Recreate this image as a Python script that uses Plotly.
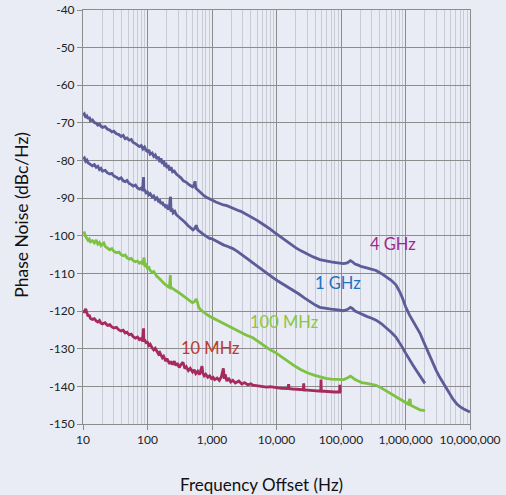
import math
import plotly.graph_objects as go

# ---------------- data ----------------
freq_4ghz = [10, 10.5, 11, 11.5, 12, 12.5, 13, 14, 15, 16, 17, 18, 19, 20, 22, 24, 26, 28, 30, 33,
             36, 39, 42, 45, 48, 52, 56, 60, 65, 70, 75, 80, 85, 90, 95, 100, 105, 110, 118, 125,
             132, 140, 148, 155, 162, 170, 178, 185, 192, 200, 210, 220, 232, 245, 260, 280, 300,
             330, 360, 400, 450, 500, 530, 545, 560, 600, 650, 700, 760, 830, 900, 1000, 1150,
             1300, 1500, 1700, 1900, 2200, 2500, 2800, 3200, 3700, 4300, 5000, 6000, 7000, 8000,
             9500, 11000, 13000, 15000, 17500, 20000, 24000, 30000, 37000, 47000, 58000, 70000,
             83000, 96000, 110000, 125000, 140000, 150000, 165000, 185000, 210000, 250000,
             300000, 350000, 420000, 500000, 600000, 710000, 800000, 900000, 1000000, 1150000,
             1300000, 1500000, 1680000, 1850000, 2000000, 2200000, 2400000, 2700000, 3000000,
             3400000, 3800000, 4200000, 4700000, 5400000, 6200000, 7000000, 8000000, 9000000,
             10000000]
pn_4ghz = [-68.0, -67.6, -68.6, -68.2, -68.9, -68.4, -69.4, -69.2, -69.9, -70.1, -70.6, -70.3,
           -70.9, -71.2, -71.0, -71.7, -71.9, -72.4, -72.2, -72.9, -73.1, -73.6, -73.3, -74.2,
           -74.0, -74.6, -74.4, -75.2, -75.5, -75.8, -76.3, -76.0, -76.9, -76.4, -77.3, -77.6,
           -77.2, -78.3, -78.0, -78.9, -78.5, -79.6, -79.0, -80.4, -79.4, -80.9, -80.0, -81.6,
           -80.6, -82.0, -81.2, -82.6, -81.8, -83.0, -82.8, -83.6, -84.0, -84.6, -85.4, -85.8,
           -86.5, -87.0, -86.4, -85.5, -87.3, -87.8, -88.4, -88.8, -89.4, -89.8, -90.2, -90.5,
           -91.0, -91.4, -91.8, -92.0, -92.4, -92.8, -93.2, -93.5, -94.0, -94.6, -95.2, -95.9,
           -96.8, -97.5, -98.2, -99.2, -100.0, -100.9, -101.7, -102.5, -103.2, -104.0, -104.9,
           -105.6, -106.3, -106.7, -106.9, -107.1, -107.3, -107.4, -107.2, -106.6, -106.9,
           -107.5, -107.8, -108.2, -108.5, -108.8, -109.2, -110.0, -110.8, -111.8, -113.0,
           -114.6, -116.6, -118.8, -121.0, -122.6, -124.4, -125.9, -127.6, -129.0, -130.6,
           -132.0, -134.0, -135.8, -137.6, -139.0, -140.4, -141.8, -143.3, -144.6, -145.4,
           -146.0, -146.5, -146.8]

freq_1ghz = [10, 10.5, 11, 11.5, 12, 13, 14, 15, 16, 17, 18, 19, 20, 22, 24, 26, 28, 30, 33, 36,
             39, 42, 45, 48, 52, 56, 60, 65, 70, 75, 80, 84, 86, 87, 88, 90, 95, 100, 105, 110,
             118, 125, 132, 140, 148, 155, 162, 170, 178, 185, 192, 200, 210, 218, 224, 228, 232,
             240, 250, 265, 280, 300, 320, 350, 380, 420, 460, 507, 540, 570, 600, 650, 700, 760,
             830, 900, 1000, 1150, 1300, 1500, 1800, 2100, 2500, 3000, 3600, 4300, 5200, 6300,
             7500, 8800, 10500, 12500, 15000, 18000, 22000, 27000, 33000, 40000, 47000, 58000,
             70000, 83000, 96000, 110000, 125000, 140000, 150000, 165000, 185000, 210000,
             250000, 300000, 350000, 420000, 500000, 600000, 710000, 800000, 900000, 1000000,
             1100000, 1200000, 1320000, 1450000, 1600000, 1800000, 2000000]
pn_1ghz = [-79.6, -79.3, -80.2, -79.9, -80.6, -80.9, -81.4, -81.1, -81.8, -81.5, -82.4, -82.1,
           -82.8, -82.6, -83.3, -83.6, -83.4, -84.1, -84.4, -84.9, -84.6, -85.4, -85.6, -85.3,
           -86.1, -86.4, -86.8, -86.5, -87.3, -87.6, -87.3, -88.0, -85.0, -84.4, -88.2, -87.7,
           -88.6, -88.4, -89.1, -88.8, -89.7, -89.4, -90.3, -89.9, -90.8, -90.6, -91.5, -91.0,
           -92.0, -91.6, -92.6, -92.2, -93.0, -92.6, -90.2, -89.6, -93.6, -92.8, -93.9, -93.5,
           -94.4, -94.8, -95.2, -95.8, -96.4, -97.2, -97.8, -98.4, -98.0, -97.2, -98.4, -98.9,
           -99.4, -99.8, -100.2, -100.6, -100.8, -101.4, -101.9, -102.4, -102.9, -103.4,
           -104.2, -105.1, -106.2, -107.2, -108.3, -109.4, -110.4, -111.1, -112.0, -112.8,
           -113.6, -114.4, -115.4, -116.5, -117.5, -118.4, -119.0, -119.3, -119.5, -119.6,
           -119.8, -119.9, -119.6, -119.0, -119.3, -120.0, -120.4, -120.9, -121.4, -121.9,
           -122.4, -123.3, -124.4, -125.6, -126.9, -128.2, -129.7, -131.1, -132.4, -133.4,
           -134.5, -135.6, -136.8, -138.0, -139.2]

freq_100mhz = [10, 10.5, 11, 11.5, 12, 12.5, 13, 14, 15, 16, 17, 18, 19, 20, 21, 22, 24, 26, 28,
               30, 33, 36, 39, 42, 45, 48, 52, 56, 60, 65, 70, 75, 80, 85, 88, 89, 91, 95, 100,
               105, 110, 118, 125, 132, 140, 150, 160, 170, 180, 190, 200, 212, 220, 223, 226,
               229, 240, 260, 280, 300, 330, 360, 400, 450, 500, 540, 570, 590, 620, 660, 700,
               760, 830, 900, 1000, 1150, 1330, 1550, 1800, 2100, 2700, 3300, 4300, 5300, 6500,
               8000, 9800, 12000, 14500, 17000, 20000, 24000, 30000, 38000, 47000, 58000, 70000,
               83000, 96000, 110000, 125000, 140000, 150000, 165000, 185000, 210000, 250000,
               300000, 350000, 420000, 500000, 600000, 710000, 800000, 900000, 1000000, 1100000,
               1150000, 1180000, 1200000, 1350000, 1500000, 1700000, 1850000, 2000000]
pn_100mhz = [-99.4, -99.2, -100.2, -100.8, -101.2, -100.9, -101.6, -101.3, -101.9, -101.1,
             -102.2, -101.8, -102.6, -102.2, -101.9, -102.8, -103.3, -103.7, -103.4, -104.1,
             -104.5, -104.3, -105.0, -105.3, -105.1, -105.8, -106.2, -106.0, -106.6, -106.9,
             -106.7, -107.3, -107.0, -107.6, -105.8, -106.2, -108.2, -107.8, -108.6, -108.4,
             -109.2, -109.7, -109.5, -110.3, -110.8, -111.2, -111.8, -112.3, -112.6, -113.0,
             -113.3, -113.6, -113.4, -110.6, -110.4, -113.9, -113.9, -114.3, -114.6, -115.0,
             -115.5, -116.0, -116.5, -117.2, -117.8, -117.4, -116.8, -117.5, -118.9, -119.6,
             -120.0, -120.5, -120.9, -121.3, -121.7, -122.3, -122.9, -123.5, -124.1, -124.7,
             -125.6, -126.3, -127.1, -128.2, -129.3, -130.3, -131.1, -132.2, -133.2, -134.1,
             -134.8, -135.6, -136.4, -137.0, -137.5, -137.9, -138.1, -138.2, -138.3, -138.2,
             -137.8, -137.3, -137.6, -138.2, -138.6, -139.0, -139.2, -139.5, -139.7, -140.4,
             -141.2, -142.0, -142.8, -143.4, -144.0, -144.4, -144.7, -143.6, -143.4, -145.0,
             -145.5, -145.9, -146.3, -146.3, -146.5]

freq_10mhz = [10, 10.5, 11, 11.5, 12, 12.5, 13, 14, 15, 16, 17, 18, 19, 20, 22, 24, 26, 28, 30,
              33, 36, 39, 42, 45, 48, 52, 56, 60, 65, 70, 75, 80, 84, 86, 87, 88, 90, 95, 100,
              105, 110, 118, 125, 132, 140, 148, 155, 162, 170, 178, 185, 192, 200, 210, 220,
              230, 245, 260, 275, 290, 310, 330, 355, 380, 400, 430, 460, 500, 530, 560, 600,
              640, 680, 700, 720, 760, 800, 860, 920, 980, 1040, 1100, 1200, 1300, 1400, 1450,
              1500, 1550, 1600, 1700, 1800, 1950, 2100, 2300, 2600, 2900, 3200, 3600, 4000,
              4300, 5000, 6000, 7000, 8000, 9000, 10500, 12000, 13500, 15000, 15400, 15800,
              18000, 21000, 24000, 26000, 26400, 26800, 30000, 35000, 40000, 45000, 48500,
              49000, 49600, 55000, 62000, 70000, 80000, 90000, 95000, 96000, 97000, 100000]
pn_10mhz = [-119.8, -120.4, -119.4, -120.8, -121.4, -121.0, -121.9, -122.2, -122.0, -122.6,
            -122.9, -122.5, -123.2, -123.4, -123.1, -123.8, -123.6, -124.2, -124.5, -124.3,
            -125.0, -125.3, -125.1, -125.8, -125.6, -126.3, -126.1, -126.8, -127.2, -126.9,
            -127.6, -127.3, -128.0, -125.2, -124.6, -128.2, -127.6, -128.4, -128.3, -129.1,
            -128.8, -129.8, -130.3, -129.9, -130.8, -131.4, -131.0, -131.9, -132.4, -132.0,
            -132.8, -133.3, -132.6, -133.5, -134.0, -133.4, -134.2, -133.3, -134.5, -133.8,
            -135.0, -134.2, -133.6, -135.3, -134.8, -135.8, -135.2, -136.2, -135.6, -136.6,
            -136.0, -136.9, -135.2, -134.6, -136.4, -137.2, -136.8, -137.6, -137.2, -137.9,
            -137.6, -138.2, -137.8, -138.4, -137.4, -135.6, -135.2, -138.0, -136.8, -138.6,
            -137.8, -138.8, -138.4, -139.1, -138.6, -139.4, -139.0, -139.6, -139.3, -139.7,
            -139.9, -140.0, -140.2, -140.1, -140.3, -140.4, -140.5, -140.5, -140.6, -139.4,
            -140.6, -140.7, -140.8, -140.9, -140.9, -139.2, -141.0, -141.0, -141.1, -141.2,
            -141.2, -141.3, -138.2, -141.3, -141.3, -141.4, -141.4, -141.5, -141.5, -141.5,
            -139.6, -141.5, -141.5]

series_names = ["4 GHz", "1 GHz", "100 MHz", "10 MHz"]
series_colors = ["#5c5c98", "#5c5c98", "#7dc242", "#a62a5e"]

label_texts = ["4 GHz", "1 GHz", "100 MHz", "10 MHz"]
label_freqs = [640000, 90000, 13000, 960]
label_values = [-102.2, -112.5, -122.9, -129.8]
label_colors = ["#9c2a8c", "#1f72bd", "#8cc63f", "#c0392b"]

x_tick_vals = [10, 100, 1000, 10000, 100000, 1000000, 10000000]
x_tick_text = ["10", "100", "1,000", "10,000", "100,000", "1,000,000", "10,000,000"]
y_tick_vals = [-150, -140, -130, -120, -110, -100, -90, -80, -70, -60, -50, -40]
y_tick_text = ["-150", "-140", "-130", "-120", "-110", "-100", "-90", "-80", "-70", "-60",
               "-50", "-40"]

x_title = "Frequency Offset (Hz)"
y_title = "Phase Noise (dBc/Hz)"

# ---------------- figure ----------------
FONT = "Lato, Open Sans, sans-serif"
bg = "#e9ebf5"
fig = go.Figure()
all_x = [freq_4ghz, freq_1ghz, freq_100mhz, freq_10mhz]
all_y = [pn_4ghz, pn_1ghz, pn_100mhz, pn_10mhz]
for name, xs, ys, col in zip(series_names, all_x, all_y, series_colors):
    fig.add_trace(go.Scatter(x=xs, y=ys, mode="lines", name=name,
                             line=dict(color=col, width=2.8), showlegend=False,
                             hoverinfo="skip"))

for txt, f, v, c in zip(label_texts, label_freqs, label_values, label_colors):
    fig.add_annotation(x=math.log10(f), y=v, text=txt, showarrow=False,
                       xanchor="center", yanchor="middle",
                       font=dict(family=FONT, size=16.5, color=c))

# axis titles
fig.add_annotation(xref="paper", yref="paper", x=0.4625, y=-0.145, text=x_title,
                   xanchor="center", yanchor="middle",
                   showarrow=False, font=dict(family=FONT, size=17, color="#111111"))
fig.add_annotation(xref="paper", yref="paper", x=-0.158, y=0.505, text=y_title,
                   xanchor="center", yanchor="middle",
                   textangle=-90, showarrow=False,
                   font=dict(family=FONT, size=17.5, color="#111111"))

fig.update_layout(
    width=506, height=495,
    margin=dict(l=83, r=36, t=10, b=71),
    paper_bgcolor=bg, plot_bgcolor=bg,
    font=dict(family=FONT, color="#222222", size=12),
)
fig.update_xaxes(
    type="log", range=[1, 7], automargin=False,
    tickmode="array", tickvals=x_tick_vals, ticktext=x_tick_text,
    showgrid=True, gridcolor="#8c8c8c", gridwidth=1,
    minor=dict(dtick="D1", showgrid=True, gridcolor="#c9cad6", gridwidth=1, ticks=""),
    showline=True, linecolor="#8c8c8c", linewidth=1, mirror=True,
    ticks="outside", ticklen=5, tickcolor="#8c8c8c",
    tickfont=dict(size=12, color="#222222"),
    zeroline=False,
)
fig.update_yaxes(
    range=[-150, -40], automargin=False,
    tickmode="array", tickvals=y_tick_vals, ticktext=y_tick_text,
    showgrid=True, gridcolor="#8c8c8c", gridwidth=1,
    showline=True, linecolor="#8c8c8c", linewidth=1, mirror=True,
    ticks="outside", ticklen=5, tickcolor="#8c8c8c",
    tickfont=dict(size=12, color="#222222"),
    zeroline=False,
)

fig.write_html(
    "out.html",
    config={"displayModeBar": False},
    post_script="document.body.style.margin='0';document.body.style.background='" + bg + "';",
)
